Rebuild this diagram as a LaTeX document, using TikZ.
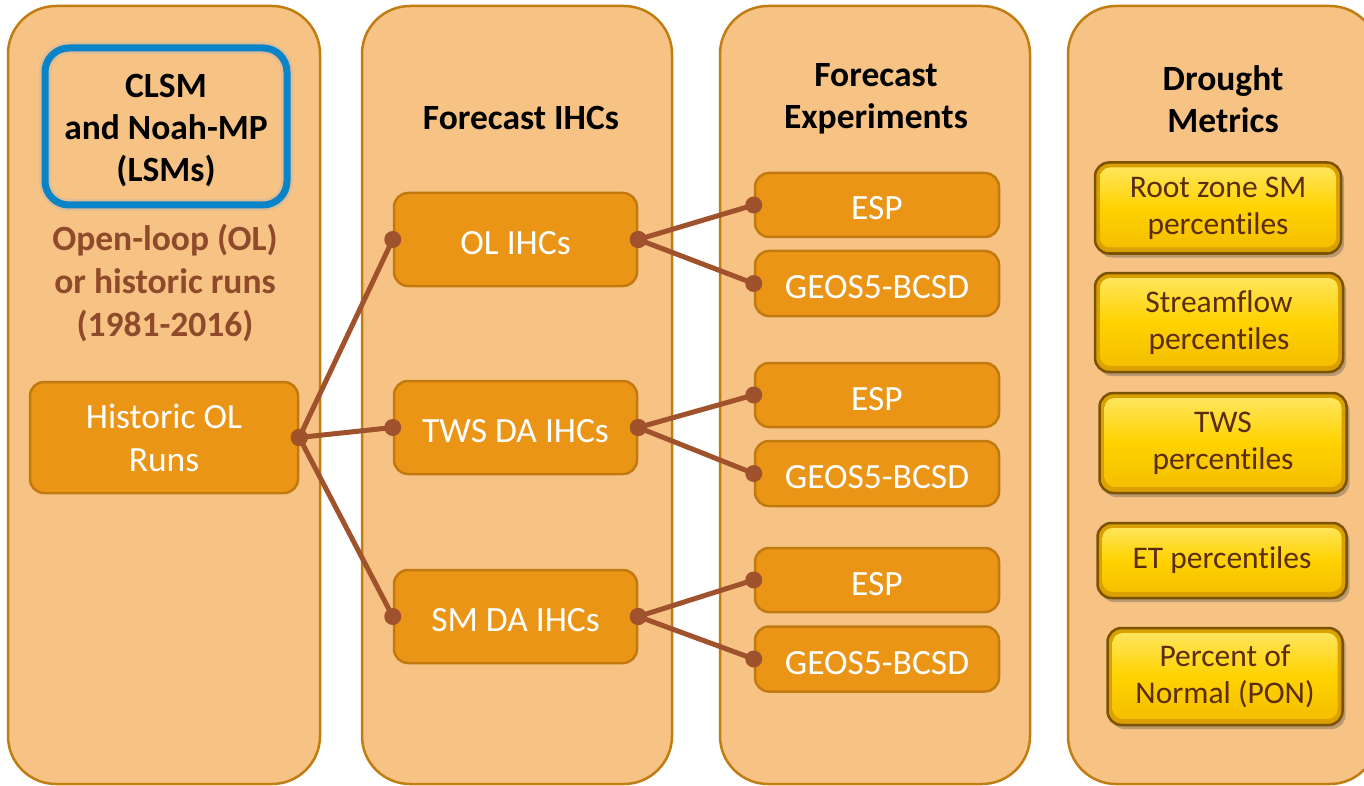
\documentclass[tikz,border=0pt]{standalone}
\usepackage{fontspec}
\setmainfont{Carlito}[Ligatures=NoCommon]
\usetikzlibrary{shadows}
\definecolor{colfill}{HTML}{F6C385}
\definecolor{colline}{HTML}{C17D11}
\definecolor{boxfill}{HTML}{EB9516}
\definecolor{boxline}{HTML}{C27A10}
\definecolor{connc}{HTML}{A0522D}
\definecolor{lsmblue}{HTML}{0A84C8}
\definecolor{olbrown}{HTML}{8E4A2A}
\definecolor{goldline}{HTML}{7A5200}
\definecolor{golddark}{HTML}{D9A000}
\definecolor{goldhi}{HTML}{FFE766}
\definecolor{goldmid}{HTML}{FFD200}
\definecolor{goldlow}{HTML}{F2BC00}
\definecolor{goldtext}{HTML}{5A2D0C}
\tikzset{
  column/.style={rectangle, rounded corners=48pt, fill=colfill, draw=colline,
    line width=2.5pt, inner sep=0pt},
  obox/.style={rectangle, rounded corners=14pt, fill=boxfill, draw=boxline,
    line width=2.5pt, inner sep=0pt, text=white, align=center,
    font=\fontsize{35.5}{43}\selectfont},
  % single-line boxes: text sits a little below the box centre
  oline/.style={obox, text height=30pt, text depth=0pt},
  gbox/.style={rectangle, rounded corners=14pt, fill=golddark, draw=goldline,
    line width=2.5pt, inner sep=0pt, text=goldtext, align=center,
    font=\fontsize{31.5}{37}\selectfont,
    drop shadow={shadow xshift=3pt, shadow yshift=-4pt, opacity=0.35, fill=black!70},
    path picture={\fill[top color=goldhi, bottom color=goldlow, middle color=goldmid,
      rounded corners=10pt]
      ([shift={(5pt,-5pt)}]path picture bounding box.north west) rectangle
      ([shift={(-5pt,6pt)}]path picture bounding box.south east);}},
  head/.style={align=center, font=\bfseries\fontsize{35.5}{42}\selectfont, text=black},
  conn/.style={draw=connc, line width=5pt, line cap=round},
  dot/.style={fill=connc},
}
\begin{document}
\begin{tikzpicture}[x=1pt,y=-1pt]
\useasboundingbox (0,0) rectangle (1364,786);

% the four columns
\begin{scope}
\clip (0,0) rectangle (1364,786);
\node[column, minimum width=312pt, minimum height=778pt] (col1) at (164,395) {};
\node[column, minimum width=310pt, minimum height=778pt] (col2) at (517,395) {};
\node[column, minimum width=310pt, minimum height=778pt] (col3) at (875,395) {};
\node[column, minimum width=310pt, minimum height=778pt] (col4) at (1223,395) {};
\end{scope}

% column 1: land surface models and historic runs
\draw[line width=12pt, color=gray!60, opacity=0.35, rounded corners=24pt]
  (45,48) rectangle (287,205);
\node[rectangle, rounded corners=24pt, draw=lsmblue, line width=7pt,
  minimum width=242pt, minimum height=157pt, inner sep=0pt] (lsm) at (166,126.5) {};
\node[align=center, font=\bfseries\fontsize{35.5}{42}\selectfont] (lsmtext) at (166,130.5)
  {CLSM\\and Noah-MP\\(LSMs)};
\node[align=center, text=olbrown, font=\bfseries\fontsize{35.5}{43}\selectfont]
  (olruns) at (165,283) {Open-loop (OL)\\or historic runs\\(1981-2016)};
\node[obox, minimum width=268pt, minimum height=111pt] (hist) at (164,437.5)
  {Historic OL\\Runs};

% column 2: forecast initial hydrologic conditions
\node[head] (h2) at (521,118) {Forecast IHCs};
\node[oline, minimum width=243pt, minimum height=93pt] (ol) at (515.5,239.5) {OL IHCs};
\node[oline, minimum width=243pt, minimum height=93pt] (tws) at (515.5,427.5) {TWS DA IHCs};
\node[oline, minimum width=243pt, minimum height=93pt] (sm) at (515.5,616.5) {SM DA IHCs};

% column 3: forecast experiments
\node[head] (h3) at (876,99) {Forecast\\Experiments};
\node[oline, minimum width=244pt, minimum height=64pt] (esp1) at (877,205) {ESP};
\node[oline, minimum width=244pt, minimum height=65pt] (geos1) at (877,283.5) {GEOS5-BCSD};
\node[oline, minimum width=244pt, minimum height=64pt] (esp2) at (877,395) {ESP};
\node[oline, minimum width=244pt, minimum height=65pt] (geos2) at (877,473.5) {GEOS5-BCSD};
\node[oline, minimum width=244pt, minimum height=64pt] (esp3) at (877,580) {ESP};
\node[oline, minimum width=244pt, minimum height=65pt] (geos3) at (877,659) {GEOS5-BCSD};

% column 4: drought metrics
\node[head] (h4) at (1223,99) {Drought\\Metrics};
\node[gbox, minimum width=246pt, minimum height=91pt] (m1) at (1218,208)
  {Root zone SM\\percentiles};
\node[gbox, minimum width=248pt, minimum height=99pt] (m2) at (1219,322.5)
  {Streamflow\\percentiles};
\node[gbox, minimum width=247pt, minimum height=100pt] (m3) at (1223,443)
  {TWS\\percentiles};
\node[gbox, minimum width=249pt, minimum height=75pt] (m4) at (1222,560.5)
  {ET percentiles};
\node[gbox, minimum width=235pt, minimum height=97pt] (m5) at (1225,676.5)
  {Percent of\\Normal (PON)};

% connectors with round end dots
\foreach \a/\b in {hist/ol, hist/tws, hist/sm,
                   ol/esp1, ol/geos1, tws/esp2, tws/geos2, sm/esp3, sm/geos3}{
  \draw[conn] (\a.east) -- (\b.west);
  \fill[dot] (\a.east) circle (8.5pt);
  \fill[dot] (\b.west) circle (8.5pt);
}
\end{tikzpicture}
\end{document}
